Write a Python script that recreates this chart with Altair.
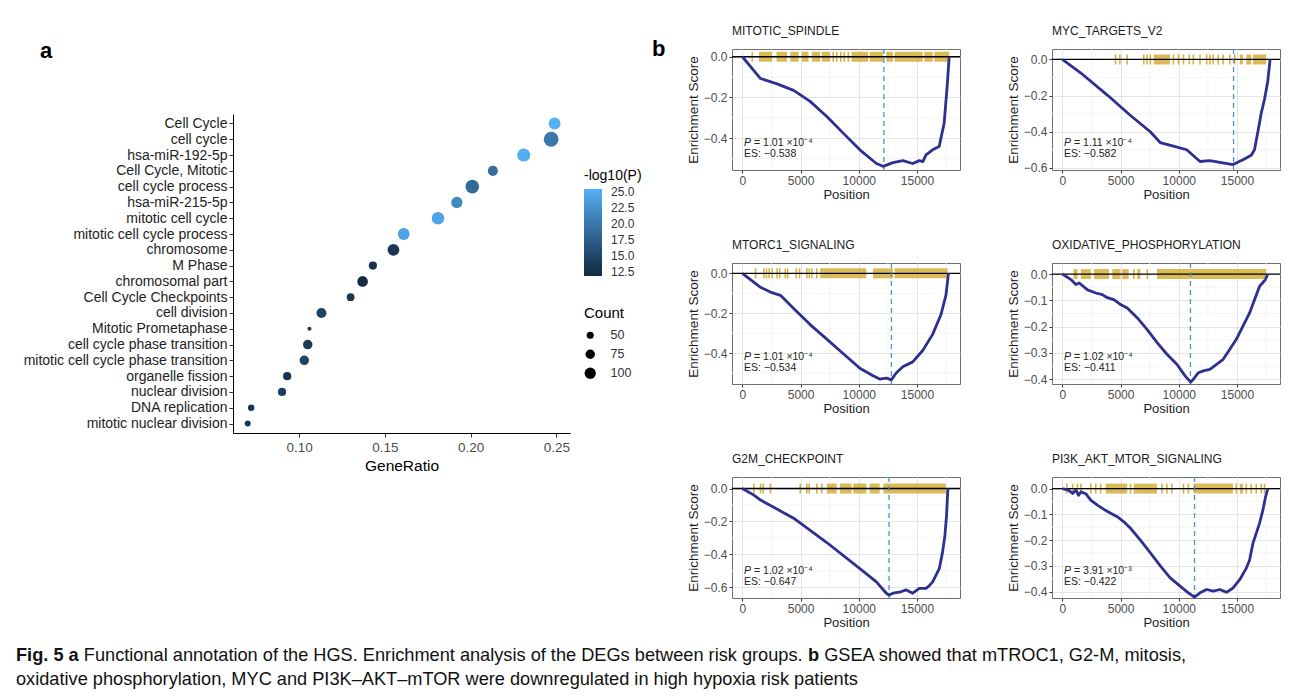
import altair as alt
import pandas as pd

# ---------------- Panel a : enrichment dot plot ----------------
terms = ["Cell Cycle", "cell cycle", "hsa-miR-192-5p", "Cell Cycle, Mitotic",
         "cell cycle process", "hsa-miR-215-5p", "mitotic cell cycle",
         "mitotic cell cycle process", "chromosome", "M Phase", "chromosomal part",
         "Cell Cycle Checkpoints", "cell division", "Mitotic Prometaphase",
         "cell cycle phase transition", "mitotic cell cycle phase transition",
         "organelle fission", "nuclear division", "DNA replication",
         "mitotic nuclear division"]
gene_ratio = [0.249, 0.247, 0.231, 0.213, 0.201, 0.192, 0.181, 0.161, 0.155, 0.143,
              0.137, 0.130, 0.113, 0.106, 0.105, 0.103, 0.093, 0.090, 0.072, 0.070]
neg_log_p = [25.3, 20.0, 25.0, 19.0, 18.5, 21.5, 24.0, 24.0, 13.3, 12.6,
             11.9, 13.0, 14.5, 13.5, 13.5, 14.5, 12.8, 14.0, 13.3, 13.0]
counts = [108, 160, 128, 83, 137, 100, 118, 108, 108, 61,
          91, 56, 83, 28, 76, 76, 61, 61, 44, 40]
ratio_ticks = [0.10, 0.15, 0.20, 0.25]
p_ticks = [12.5, 15.0, 17.5, 20.0, 22.5, 25.0]
count_ticks = [50, 75, 100]

# ---------------- Panel b : GSEA running enrichment ----------------
titles = ["MITOTIC_SPINDLE", "MYC_TARGETS_V2", "MTORC1_SIGNALING",
          "OXIDATIVE_PHOSPHORYLATION", "G2M_CHECKPOINT", "PI3K_AKT_MTOR_SIGNALING"]
p_text = ["= 1.01 \u00d710\u207b\u2074", "= 1.11 \u00d710\u207b\u2074", "= 1.01 \u00d710\u207b\u2074",
          "= 1.02 \u00d710\u207b\u2074", "= 1.02 \u00d710\u207b\u2074", "= 3.91 \u00d710\u207b\u00b3"]
es_text = ["ES: \u22120.538", "ES: \u22120.582", "ES: \u22120.534",
           "ES: \u22120.411", "ES: \u22120.647", "ES: \u22120.422"]
min_pos = [12150, 14700, 12800, 11000, 12600, 11350]

pos1 = [0, 1560, 2980, 4400, 5820, 7250, 8660, 10090, 11510, 12080, 12930, 13780,
        14630, 15200, 15500, 15770, 16340, 16900, 17330, 17610, 17760]
es1 = [0, -0.107, -0.133, -0.165, -0.219, -0.293, -0.375, -0.457, -0.524, -0.538,
       -0.520, -0.510, -0.524, -0.510, -0.515, -0.482, -0.457, -0.441, -0.326, -0.128, 0]

pos2 = [0, 1590, 3860, 5850, 7550, 8400, 9540, 10680, 11820, 12670, 13520, 14660,
        15510, 16220, 16500, 16790, 17070, 17360, 17640, 17840]
es2 = [0, -0.075, -0.197, -0.310, -0.400, -0.460, -0.480, -0.500, -0.565, -0.560,
       -0.570, -0.582, -0.555, -0.530, -0.500, -0.400, -0.300, -0.220, -0.120, 0]

pos3 = [0, 1560, 2410, 3270, 4400, 5820, 7250, 8670, 10090, 11220, 11790, 12360,
        12790, 13210, 13780, 14630, 15490, 16340, 17050, 17480, 17700]
es3 = [0, -0.070, -0.094, -0.110, -0.176, -0.257, -0.330, -0.403, -0.476, -0.514,
       -0.530, -0.525, -0.534, -0.500, -0.468, -0.444, -0.387, -0.306, -0.208, -0.110, 0]

pos4 = [0, 740, 1160, 1450, 2160, 2870, 3430, 3860, 4430, 5000, 5570, 6420, 7270,
        8120, 8980, 9830, 10540, 11020, 11250, 11680, 12100, 12670, 13240, 13810,
        14380, 14940, 15510, 16080, 16510, 16930, 17220, 17440, 17640]
es4 = [0, -0.021, -0.040, -0.034, -0.060, -0.072, -0.078, -0.090, -0.097, -0.116,
       -0.129, -0.166, -0.210, -0.260, -0.305, -0.343, -0.387, -0.411, -0.400,
       -0.375, -0.368, -0.362, -0.343, -0.324, -0.286, -0.248, -0.198, -0.148,
       -0.097, -0.047, -0.032, -0.021, 0]

pos5 = [0, 990, 1560, 4400, 7250, 10090, 11510, 12360, 12600, 12930, 13500, 14070,
        14630, 15200, 15770, 16060, 16340, 16620, 16910, 17190, 17390, 17530, 17650]
es5 = [0, -0.040, -0.070, -0.180, -0.328, -0.487, -0.567, -0.636, -0.647, -0.636,
       -0.630, -0.616, -0.636, -0.606, -0.606, -0.590, -0.567, -0.527, -0.487,
       -0.388, -0.288, -0.169, 0]

pos6 = [0, 510, 880, 1160, 1390, 1590, 2010, 2440, 3010, 3580, 4150, 4710, 5280,
        5850, 6700, 7560, 8410, 9260, 10110, 10820, 11350, 11820, 12390, 12960,
        13520, 14090, 14660, 15230, 15800, 16080, 16370, 16650, 16930, 17220,
        17450, 17640]
es6 = [0, -0.006, -0.019, -0.006, -0.026, -0.013, -0.020, -0.045, -0.064, -0.081,
       -0.096, -0.109, -0.129, -0.154, -0.200, -0.250, -0.300, -0.347, -0.379,
       -0.405, -0.422, -0.405, -0.392, -0.398, -0.392, -0.403, -0.386, -0.354,
       -0.309, -0.277, -0.212, -0.174, -0.135, -0.084, -0.032, 0]

# gene-set hits: isolated hits and runs of dense hits (start, end)
hits1 = [850, 7800, 8100, 8450, 8750, 9100]
runs1_start = [1420, 2930, 4120, 5110, 5970, 6820, 9380, 10940, 12360, 13070, 15630, 16480]
runs1_end = [2560, 3830, 4830, 5680, 6680, 7530, 10800, 12080, 12930, 15490, 16340, 17760]

hits2 = [4570, 4940, 5560, 6990, 7270, 7560, 9540, 9970, 10400, 10900, 11250, 11820,
         12390, 12670, 12950, 13380, 13800, 14380, 14800]
runs2_start = [7850, 15230, 15800, 16370]
runs2_end = [9260, 15510, 16220, 17500]

hits3 = [1135, 1850, 2070, 2300, 2560, 2980, 3210, 3690, 3890, 4630, 4910, 5540,
         5750, 5970, 6390]
runs3_start = [6680, 11220, 13070]
runs3_end = [10650, 12930, 17620]

hits4 = [6140, 7300]
runs4_start = [960, 1590, 2720, 4290, 5140, 6420, 8120]
runs4_end = [1300, 2440, 4000, 5000, 5700, 6700, 17500]

hits5 = [990, 1560, 1790, 2410, 4970, 5540, 5740, 6390, 6820]
runs5_start = [7250, 8380, 9520, 10940, 12100]
runs5_end = [8100, 9380, 10650, 11790, 17480]

hits6 = [390, 880, 1300, 1590, 2440, 2870, 3290, 5850, 8550, 8980, 9400, 10400,
         10820, 14940, 15800, 16220, 16650, 17080, 17360]
runs6_start = [3720, 6130, 11250, 15230]
runs6_end = [5570, 8120, 14660, 15510]

y_dom = [[-0.556, 0.038], [-0.612, 0.058], [-0.555, 0.052],
         [-0.418, 0.042], [-0.665, 0.070], [-0.425, 0.045]]
y_vals = [[0.0, -0.2, -0.4], [0.0, -0.2, -0.4, -0.6], [0.0, -0.2, -0.4],
          [0.0, -0.1, -0.2, -0.3, -0.4], [0.0, -0.2, -0.4, -0.6],
          [0.0, -0.1, -0.2, -0.3, -0.4]]
y_minor = [[-0.1, -0.3, -0.5], [-0.1, -0.3, -0.5], [-0.1, -0.3, -0.5],
           [-0.05, -0.15, -0.25, -0.35], [-0.1, -0.3, -0.5],
           [-0.05, -0.15, -0.25, -0.35]]
pos_ticks = [0, 5000, 10000, 15000]
pos_minor = [2500, 7500, 12500, 17500]

curves = [(pos1, es1), (pos2, es2), (pos3, es3), (pos4, es4), (pos5, es5), (pos6, es6)]
hits = [hits1, hits2, hits3, hits4, hits5, hits6]
runs = [(runs1_start, runs1_end), (runs2_start, runs2_end), (runs3_start, runs3_end),
        (runs4_start, runs4_end), (runs5_start, runs5_end), (runs6_start, runs6_end)]

caption1 = ["Fig. 5", "a", "Functional annotation of the HGS. Enrichment analysis of the DEGs between risk groups.",
            "b", "GSEA showed that mTROC1, G2-M, mitosis,"]
caption2 = "oxidative phosphorylation, MYC and PI3K\u2013AKT\u2013mTOR were downregulated in high hypoxia risk patients"

FONT = "Liberation Sans, Arial, sans-serif"
GOLD = "#D2A92E"
NAVY = "#2E3090"
DASH = "#4F8FCB"
NOBOX = alt.ViewBackground(stroke="transparent", strokeWidth=0)

# ---------------- build panel a ----------------
dot_df = pd.DataFrame({"term": terms, "ratio": gene_ratio, "nlp": neg_log_p, "count": counts})

dot = alt.Chart(dot_df).mark_circle(opacity=1).encode(
    x=alt.X("ratio:Q", scale=alt.Scale(domain=[0.0614, 0.258], nice=False, zero=False),
            axis=alt.Axis(values=ratio_ticks, format=".2f", title="GeneRatio", grid=False,
                          domainColor="#000000", tickColor="#333333", labelColor="#4D4D4D",
                          labelFontSize=13.5, titleFontSize=15.5, titleFontWeight="normal",
                          titleColor="#000000", labelPadding=3, titlePadding=5, tickSize=4)),
    y=alt.Y("term:N", sort=terms, scale=alt.Scale(padding=0.6, range=[65, 384]),
            axis=alt.Axis(title=None, grid=False, domainColor="#000000", tickColor="#333333",
                          labelColor="#222222", labelFontSize=14, labelPadding=2,
                          tickSize=4, labelLimit=0)),
    color=alt.Color("nlp:Q", scale=alt.Scale(domain=[11.8, 25.4], range=["#132B43", "#56B1F7"],
                                             interpolate="lab"),
                    legend=alt.Legend(title="-log10(P)", values=p_ticks, format=".1f",
                                      orient="none", legendX=351, legendY=120,
                                      gradientLength=87, gradientThickness=18,
                                      titleFontSize=14, titleFontWeight="normal",
                                      labelFontSize=12, titlePadding=6, labelColor="#333333",
                                      labelOffset=9, gradientStrokeWidth=0, tickCount=6)),
    size=alt.Size("count:Q", scale=alt.Scale(domain=[28, 160], range=[17, 219]),
                  legend=alt.Legend(title="Count", values=count_ticks, orient="none",
                                    legendX=351, legendY=257, symbolFillColor="#000000",
                                    symbolStrokeWidth=0, titleFontSize=15,
                                    titleFontWeight="normal", labelFontSize=12.5,
                                    labelColor="#333333", rowPadding=6, titlePadding=8,
                                    labelOffset=14)),
)

letters = alt.Chart(pd.DataFrame({"t": ["a", "b"], "lx": [-193, 419], "ly": [2, 0]})).mark_text(
    align="left", baseline="middle", fontSize=22, fontWeight="bold", font=FONT
).encode(x=alt.X("lx:Q", scale=None), y=alt.Y("ly:Q", scale=None), text="t:N")

panel_a = alt.layer(dot, letters).properties(width=337, height=384, view=NOBOX)


# ---------------- build GSEA panels ----------------
def gsea(i):
    xs = alt.Scale(domain=[-890, 18690], nice=False, zero=False)
    ys = alt.Scale(domain=y_dom[i], nice=False, zero=False)
    xa = alt.Axis(values=pos_ticks, format="d", title="Position", grid=True,
                  gridColor="#E4E4E4", domain=False, tickColor="#333333",
                  labelColor="#4D4D4D", labelFontSize=12, titleFontSize=13,
                  titleFontWeight="normal", titleColor="#1A1A1A", labelPadding=2,
                  titlePadding=2, tickSize=3)
    ya = alt.Axis(values=y_vals[i], format=".1f", title="Enrichment Score", grid=True,
                  gridColor="#E4E4E4", domain=False, tickColor="#333333",
                  labelColor="#4D4D4D", labelFontSize=12, titleFontSize=13.5,
                  titleFontWeight="normal", titleColor="#1A1A1A", labelPadding=2,
                  titlePadding=3, tickSize=3)
    pos, es = curves[i]
    cdf = pd.DataFrame({"pos": pos, "es": es})
    hdf = pd.DataFrame({"pos": hits[i]})
    rdf = pd.DataFrame({"pos": runs[i][0], "end": runs[i][1]})
    one = pd.DataFrame({"k": [0]})
    gx = pd.DataFrame({"pos": pos_minor})
    gy = pd.DataFrame({"es": y_minor[i]})

    minor_x = alt.Chart(gx).mark_rule(color="#F1F1F1", strokeWidth=0.8).encode(
        x=alt.X("pos:Q", scale=xs, axis=xa))
    minor_y = alt.Chart(gy).mark_rule(color="#F1F1F1", strokeWidth=0.8).encode(
        y=alt.Y("es:Q", scale=ys, axis=ya))
    run_layer = alt.Chart(rdf).mark_rule(color=GOLD, strokeWidth=10, strokeCap="butt",
                                         opacity=0.8).encode(
        x=alt.X("pos:Q", scale=xs, axis=xa), x2="end:Q",
        y=alt.YDatum(0, type="quantitative", scale=ys, axis=ya))
    hit_layer = alt.Chart(hdf).mark_tick(orient="vertical", size=10, thickness=1.6,
                                         color=GOLD, opacity=0.9).encode(
        x=alt.X("pos:Q", scale=xs, axis=xa),
        y=alt.YDatum(0, type="quantitative", scale=ys, axis=ya))
    zero = alt.Chart(one).mark_rule(color="#000000", strokeWidth=1.3).encode(
        y=alt.YDatum(0, type="quantitative", scale=ys, axis=ya))
    vline = alt.Chart(one).mark_rule(color=DASH, strokeWidth=1.3, strokeDash=[5, 4]).encode(
        x=alt.XDatum(min_pos[i], type="quantitative", scale=xs, axis=xa))
    line = alt.Chart(cdf).mark_line(color=NAVY, strokeWidth=2.8, strokeJoin="round").encode(
        x=alt.X("pos:Q", scale=xs, axis=xa),
        y=alt.Y("es:Q", scale=ys, axis=ya))
    ptxt = alt.Chart(one).mark_text(align="left", baseline="middle", fontSize=10.5,
                                    fontStyle="italic", font=FONT, color="#222222").encode(
        x=alt.value(12), y=alt.value(94), text=alt.value("P"))
    ptxt2 = alt.Chart(one).mark_text(align="left", baseline="middle", fontSize=10.5,
                                     font=FONT, color="#222222").encode(
        x=alt.value(22), y=alt.value(94), text=alt.value(p_text[i]))
    etxt = alt.Chart(one).mark_text(align="left", baseline="middle", fontSize=10.5,
                                    font=FONT, color="#222222").encode(
        x=alt.value(12), y=alt.value(105), text=alt.value(es_text[i]))
    layers = [minor_x, minor_y, run_layer, hit_layer, zero, vline, line, ptxt, ptxt2, etxt]
    return alt.layer(*layers).properties(
        width=228, height=121,
        title=alt.TitleParams(titles[i], anchor="start", frame="group", fontSize=12,
                              fontWeight="normal", color="#1A1A1A", offset=10),
        view=alt.ViewBackground(stroke="#6E6E6E", strokeWidth=1)
    )


rows = [alt.hconcat(gsea(2 * r), gsea(2 * r + 1), spacing=43) for r in range(3)]
panel_b = alt.vconcat(*rows, spacing=36)

top = alt.hconcat(panel_a, panel_b, spacing=19)

# ---------------- caption ----------------
CAP_SIZE = 18.2
cap_x = [-217, -164.4, -149.2, 575, 591.2]
cap_w = ["bold", "bold", "normal", "bold", "normal"]
cap_layers = []
for txt, xx, ww in zip(caption1, cap_x, cap_w):
    cap_layers.append(alt.Chart(pd.DataFrame({"t": [txt]})).mark_text(
        align="left", baseline="middle", fontSize=CAP_SIZE, fontWeight=ww, font=FONT,
        color="#111111").encode(x=alt.value(xx), y=alt.value(12), text="t:N"))
cap_layers.append(alt.Chart(pd.DataFrame({"t": [caption2]})).mark_text(
    align="left", baseline="middle", fontSize=CAP_SIZE, font=FONT, color="#111111").encode(
    x=alt.value(-217), y=alt.value(36), text="t:N"))
caption = alt.layer(*cap_layers).properties(width=1, height=40, view=NOBOX)

chart = alt.vconcat(top, caption, spacing=14).configure(
    font=FONT, padding={"left": 16, "top": 24, "right": 5, "bottom": 3}
).configure_view(stroke="transparent")

chart.save("out.html", embed_options={"renderer": "svg", "actions": False})
